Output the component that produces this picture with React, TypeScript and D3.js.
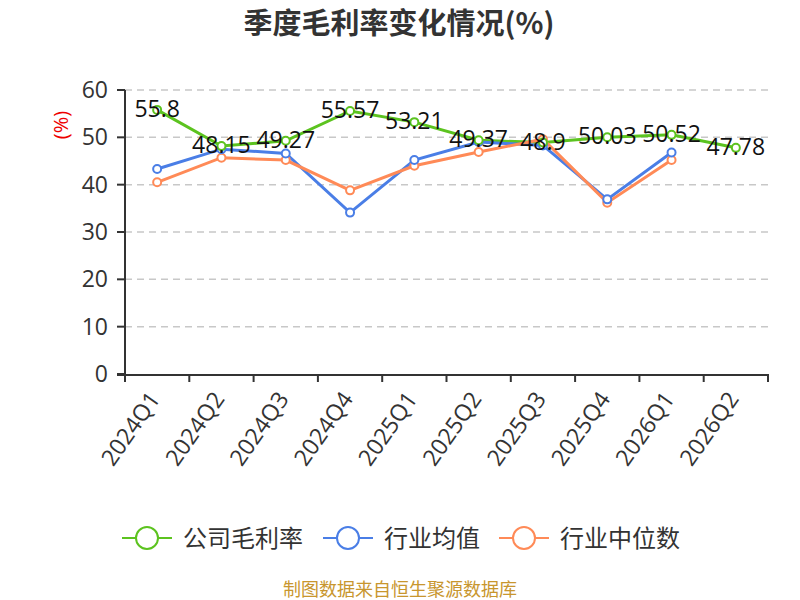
import React from "react";
import * as d3 from "d3";

const categories = ["2024Q1","2024Q2","2024Q3","2024Q4","2025Q1","2025Q2","2025Q3","2025Q4","2026Q1","2026Q2"];
const companyMargin: (number|null)[] = [55.8, 48.15, 49.27, 55.57, 53.21, 49.37, 48.9, 50.03, 50.52, 47.78];
const industryAvg: (number|null)[] = [43.3, 47.5, 46.6, 34.1, 45.2, 49.0, 48.3, 36.9, 46.8, null];
const industryMedian: (number|null)[] = [40.5, 45.7, 45.2, 38.8, 44.0, 46.9, 49.6, 36.2, 45.2, null];
const yTicks = [0, 10, 20, 30, 40, 50, 60];
const seriesNames = ["公司毛利率", "行业均值", "行业中位数"];
const colors = ["#5cc31f", "#4a7ee6", "#ff8a57"];

const W = 800, H = 600;
const left = 125, right = 768, top = 90, bottom = 374;
const font = "'Open Sans', 'Noto Sans CJK SC', sans-serif";
const cjk = "'Noto Sans CJK SC', sans-serif";

export default function App() {
  const x = d3.scaleBand<string>().domain(categories).range([left, right]);
  const y = d3.scaleLinear().domain([0, 60]).range([bottom, top]);
  const cx = (c: string) => (x(c) as number) + x.bandwidth() / 2;

  const allSeries = [companyMargin, industryAvg, industryMedian];
  const line = d3.line<[string, number | null]>()
    .defined(d => d[1] !== null)
    .x(d => cx(d[0]))
    .y(d => y(d[1] as number));

  const legendX = [122, 323, 499];

  return (
    <svg width={W} height={H} style={{ position: "absolute", left: 0, top: 0, fontFamily: font }}>
      <rect width={W} height={H} fill="#fff" />
      <text x={399} y={34} textAnchor="middle" fontSize={29} fontWeight="bold" fill="#333"
        fontFamily={cjk}>季度毛利率变化情况(%)</text>
      {/* grid */}
      {yTicks.map(t => t > 0 && (
        <line key={t} x1={left} x2={right} y1={y(t)} y2={y(t)} stroke="#c8c8c8" strokeWidth={1.5} strokeDasharray="7,5" />
      ))}
      {/* y axis */}
      <line x1={left} x2={left} y1={top} y2={bottom + 6} stroke="#333" strokeWidth={2} />
      {yTicks.map(t => (
        <g key={t}>
          <line x1={left - 8} x2={left} y1={y(t)} y2={y(t)} stroke="#333" strokeWidth={2} />
          <text x={left - 17} y={y(t) + 8} textAnchor="end" fontSize={23} fill="#333">{t}</text>
        </g>
      ))}
      <text transform={`translate(63,125) rotate(-90)`} textAnchor="middle" fontSize={20} fill="#e00"
        dominantBaseline="middle">(%)</text>
      {/* x axis */}
      <line x1={left - 8} x2={right} y1={bottom + 1} y2={bottom + 1} stroke="#333" strokeWidth={2} />
      {categories.map((c, i) => (
        <line key={"t" + i} x1={x(c) as number} x2={x(c) as number} y1={bottom} y2={bottom + 8} stroke="#333" strokeWidth={2} />
      ))}
      <line x1={right} x2={right} y1={bottom} y2={bottom + 8} stroke="#333" strokeWidth={2} />
      {categories.map(c => (
        <text key={c} transform={`translate(${cx(c) + 4},${bottom + 25}) rotate(-55)`} textAnchor="end"
          fontSize={23} fill="#333">{c}</text>
      ))}
      {/* lines */}
      {allSeries.map((s, si) => (
        <path key={si} d={line(categories.map((c, i) => [c, s[i]] as [string, number | null])) || ""}
          fill="none" stroke={colors[si]} strokeWidth={3} />
      ))}
      {[2, 1, 0].map(si => (
        <g key={"p" + si}>
          {allSeries[si].map((v, i) => v !== null && (
            <circle key={i} cx={cx(categories[i])} cy={y(v)} r={4} fill="#fff" stroke={colors[si]} strokeWidth={2} />
          ))}
        </g>
      ))}
      {/* labels */}
      {companyMargin.map((v, i) => v !== null && (
        <text key={"l" + i} x={cx(categories[i])} y={y(v) + 7} textAnchor="middle" fontSize={23} fill="#111">{v}</text>
      ))}
      {/* legend */}
      {seriesNames.map((n, i) => (
        <g key={n}>
          <line x1={legendX[i]} x2={legendX[i] + 50} y1={538} y2={538} stroke={colors[i]} strokeWidth={2} />
          <circle cx={legendX[i] + 25} cy={538} r={11} fill="#fff" stroke={colors[i]} strokeWidth={2} />
          <text x={legendX[i] + 61} y={547} fontSize={24} fill="#333" fontFamily={cjk}>{n}</text>
        </g>
      ))}
      <text x={400} y={596} textAnchor="middle" fontSize={18} fill="#c8962e"
        fontFamily={cjk}>制图数据来自恒生聚源数据库</text>
    </svg>
  );
}
